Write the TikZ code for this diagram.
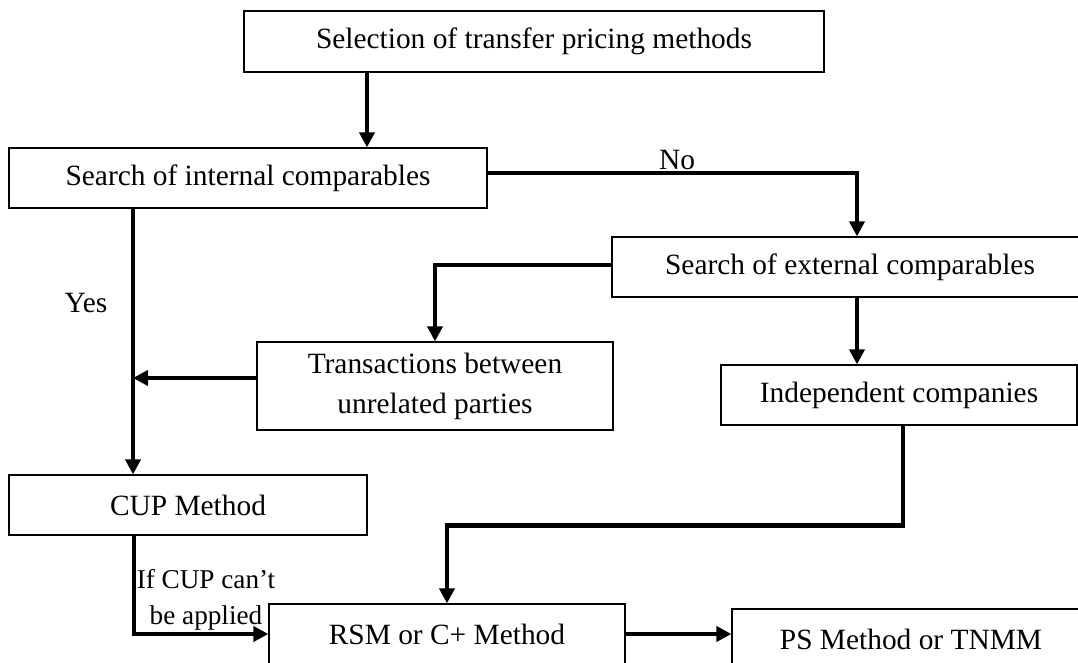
\documentclass[tikz,border=0pt]{standalone}
\usepackage{fontspec}
\setmainfont{Liberation Serif}
\usepackage{tikz}
\usetikzlibrary{positioning, arrows.meta}

\begin{document}
\begin{tikzpicture}[
  x=0.5pt, y=-0.5pt,
  font=\fontsize{14.7}{20}\selectfont,
  box/.style={draw, line width=0.6pt, minimum height=30pt, inner sep=2pt, align=center},
  arr/.style={-{Triangle[width=7.5pt,length=7.5pt]}, line width=2.1pt},
  lbl/.style={inner sep=1pt, align=center}
]
\clip (0,0) rectangle (1078,663);
% boxes
\node[box, minimum width=290pt, minimum height=30.5pt] (sel) at (534,41.5) {Selection of transfer pricing methods};
\node[box, minimum width=239pt] (intl) at (248,178) {Search of internal comparables};
\node[box, minimum width=238pt] (extl) at (850,267) {Search of external comparables};
\node[box, minimum width=178pt, minimum height=44pt] (trans) at (435,386) {Transactions between\\unrelated parties};
\node[box, minimum width=178pt] (indep) at (899,395) {Independent companies};
\node[box, minimum width=179pt] (cup) at (188,505) {CUP Method};
\node[box, minimum width=178pt] (rsm) at (447,634) {RSM or C+ Method};
\node[box, minimum width=179pt] (ps) at (911,639) {PS Method or TNMM};
% labels
\node[lbl] (no) at (677,160) {No};
\node[lbl] (yes) at (86,303) {Yes};
\node[lbl, font=\fontsize{13.6}{18}\selectfont] (ifcup) at (206,600) {If CUP can't\\be applied};
% connectors
\draw[arr] (sel.south -| 367,0) -- (intl.north -| 367,0);
\draw[arr] ([yshift=2.5pt]intl.east) -| (extl.north -| 857,0);
\draw[arr] ([yshift=1pt]extl.west) -| (trans.north);
\draw[arr] (extl.south -| 857,0) -- (indep.north -| 857,0);
\draw[arr] (intl.south -| 133,0) -- (cup.north -| 133,0);
\draw[arr] ([yshift=4pt]trans.west) -- ([yshift=4pt]trans.west -| 133,0);
\draw[arr] (indep.south -| 903,0) -- ++(0,100) -| (rsm.north);
\draw[arr] (cup.south -| 134,0) |- (rsm.west);
\draw[arr] (rsm.east) -- (rsm.east -| ps.west);
\end{tikzpicture}
\end{document}
